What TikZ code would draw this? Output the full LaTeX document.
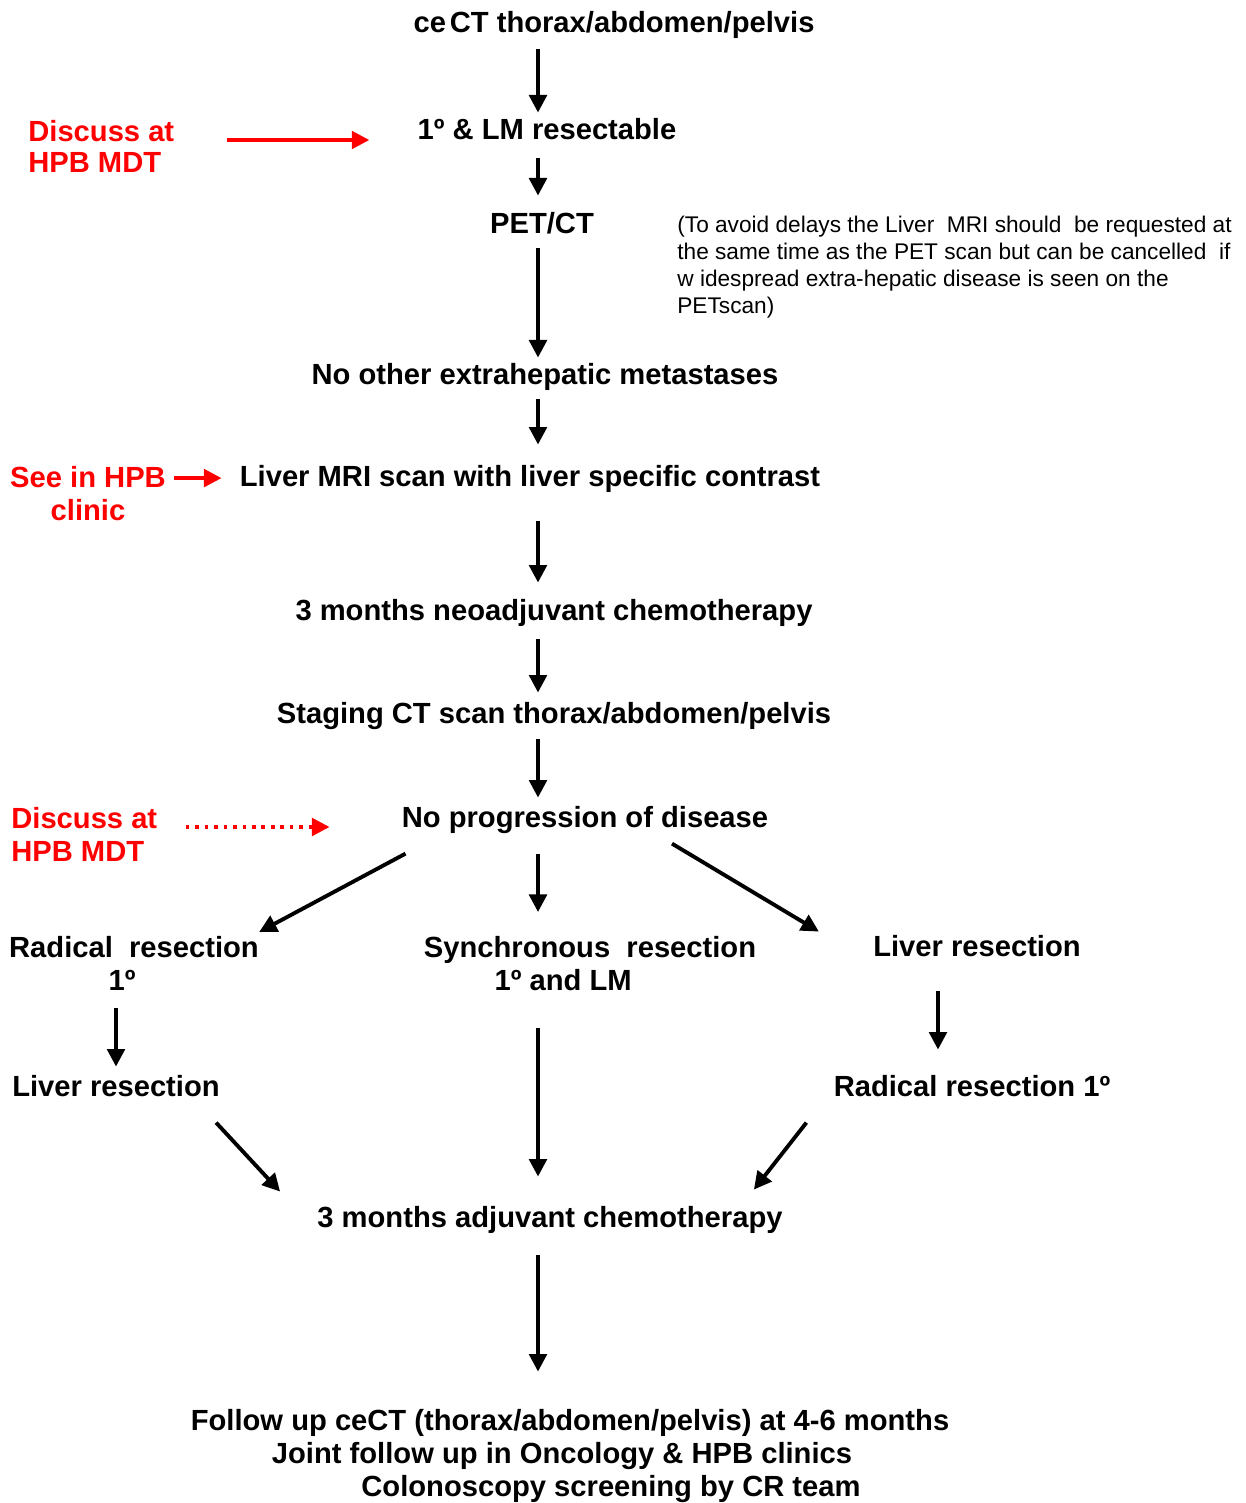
\documentclass[tikz,border=0pt]{standalone}
\usepackage{fontspec}
\setmainfont{Liberation Sans}
\usetikzlibrary{arrows.meta}

\newcommand{\bigtext}{\fontsize{16.6pt}{18.7pt}\selectfont\bfseries}
\newcommand{\notetext}{\fontsize{12.9pt}{15.3pt}\selectfont}
\definecolor{mdtred}{RGB}{255,0,0}

\tikzset{
  stage/.style={font=\bigtext, inner sep=0pt, text height=12pt, text depth=3pt, anchor=base},
  stagetwo/.style={font=\bigtext, inner sep=0pt, align=center, anchor=north},
  redlabel/.style={font=\bigtext, text=mdtred, inner sep=0pt, align=left, anchor=north west},
  flow/.style={line width=2.2pt, -{Triangle[length=10pt,width=10pt]}},
  redflow/.style={mdtred, line width=2pt, -{Triangle[length=10pt,width=10pt]}},
  reddots/.style={redflow, dash pattern=on 2pt off 3.4pt}
}

\begin{document}
\begin{tikzpicture}[x=0.02cm, y=-0.02cm]
                \useasboundingbox (0,0) rectangle (1246,1503);
                \coordinate (spine) at (538,0);
                \coordinate (rspine) at (938,0);

                % Placing the steps of the pathway
                \node [stage] (ct) at (614,33) {ce\hspace{2.2pt}CT thorax/abdomen/pelvis};%
                \node [stage] (resect) at (547,140) {1º \& LM resectable};%
                \node [stage] (pet) at (542,234) {PET/CT};%
                \node [stage] (noextra) at (545,385) {No other extrahepatic metastases};%
                \node [stage] (mri) at (530,486) {Liver MRI scan with liver specific contrast};%
                \node [stage] (neoadj) at (554,620) {3 months neoadjuvant chemotherapy};%
                \node [stage] (staging) at (554,723) {Staging CT scan thorax/abdomen/pelvis};%
                \node [stage] (noprog) at (585,827) {No progression of disease};%

                % Placing the three branches
                \node [stagetwo] (radfirst) at (134,936) {Radical\ \ resection\\1º\hspace*{13.6pt}};%
                \node [stagetwo] (sync) at (590,936) {Synchronous\ \ resection\\1º and LM\hspace*{30.6pt}};%
                \node [stage] (liverfirst) at (977,956) {Liver resection};%
                \node [stage] (liverleft) at (116,1096) {Liver resection};%
                \node [stage] (radright) at (972,1096) {Radical resection 1º};%
                \node [stage] (adjuv) at (550,1227) {3 months adjuvant chemotherapy};%

                % Placing the follow up lines
                \node [stage] (fupct) at (570,1430) {Follow up ceCT (thorax/abdomen/pelvis) at 4-6 months};%
                \node [stage] (fupjoint) at (562,1463) {Joint follow up in Oncology \& HPB clinics};%
                \node [stage] (fupcolon) at (611,1496) {Colonoscopy screening by CR team};%

                % Placing the note beside PET/CT
                \node [font=\notetext, inner sep=0pt, align=left, anchor=north west] (petnote) at (677,216)
                  {(To avoid delays the Liver~ MRI should~ be requested at\\
                   the same time as the PET scan but can be cancelled~ if\\
                   w idespread extra-hepatic disease is seen on the\\
                   PETscan)};%

                % Placing the red labels
                \node [redlabel, font=\fontsize{16.6pt}{17.8pt}\selectfont\bfseries] (mdtone) at (28,120) {Discuss at\\HPB MDT};%
                \node [redlabel, anchor=north, align=center] (clinic) at (88,466) {See in HPB\\clinic};%
                \node [redlabel] (mdttwo) at (11,807) {Discuss at\\HPB MDT};%

                % Drawing arrows down the spine
                \draw [flow, shorten <=0.20cm, shorten >=0.12cm] (ct.south -| spine) -- (resect.north -| spine);%
                \draw [flow, shorten <=0.24cm, shorten >=0.34cm] (resect.south -| spine) -- (pet.north -| spine);%
                \draw [flow, shorten <=0.16cm, shorten >=0.12cm] (pet.south -| spine) -- (noextra.north -| spine);%
                \draw [flow, shorten <=0.16cm, shorten >=0.40cm] (noextra.south -| spine) -- (mri.north -| spine);%
                \draw [flow, shorten <=0.58cm, shorten >=0.32cm] (mri.south -| spine) -- (neoadj.north -| spine);%
                \draw [flow, shorten <=0.26cm, shorten >=0.18cm] (neoadj.south -| spine) -- (staging.north -| spine);%
                \draw [flow, shorten <=0.20cm, shorten >=0.16cm] (staging.south -| spine) -- (noprog.north -| spine);%

                % Drawing arrows into the branches
                \draw [flow] ([shift={(4,21)}]noprog.south west) -- ([shift={(0,-4)}]radfirst.north east);%
                \draw [flow, shorten <=0.42cm, shorten >=0.48cm] (noprog.south -| spine) -- (sync.north -| spine);%
                \draw [flow] ([shift={(87,11)}]noprog.south) -- ([shift={(-54,-3)}]liverfirst.north west);%
                \draw [flow, shorten <=0.34cm, shorten >=0.16cm] (radfirst.south -| liverleft) -- (liverleft.north);%
                \draw [flow, shorten <=0.58cm, shorten >=0.50cm] (liverfirst.south -| rspine) -- (radright.north -| rspine);%

                % Drawing arrows into adjuvant chemotherapy
                \draw [flow] ([shift={(-4,21)}]liverleft.south east) -- ([shift={(-37,-14)}]adjuv.north west);%
                \draw [flow, shorten <=0.74cm, shorten >=0.58cm] (sync.south -| spine) -- (adjuv.north -| spine);%
                \draw [flow] ([shift={(-27,21)}]radright.south west) -- ([shift={(-29,-16)}]adjuv.north east);%
                \draw [flow, shorten <=0.44cm, shorten >=0.74cm] (adjuv.south -| spine) -- (fupct.north -| spine);%

                % Drawing the red arrows
                \draw [redflow, shorten <=1.04cm, shorten >=0.96cm] (mdtone.east |- resect.base) -- (resect.base west);%
                \draw [redflow, shorten <=0.16cm, shorten >=0.36cm] (clinic.east |- mri) -- (mri.west);%
                \draw [reddots, shorten <=0.56cm, shorten >=1.44cm] (mdttwo.east |- noprog.base) -- (noprog.base west);%
\end{tikzpicture}
\end{document}
